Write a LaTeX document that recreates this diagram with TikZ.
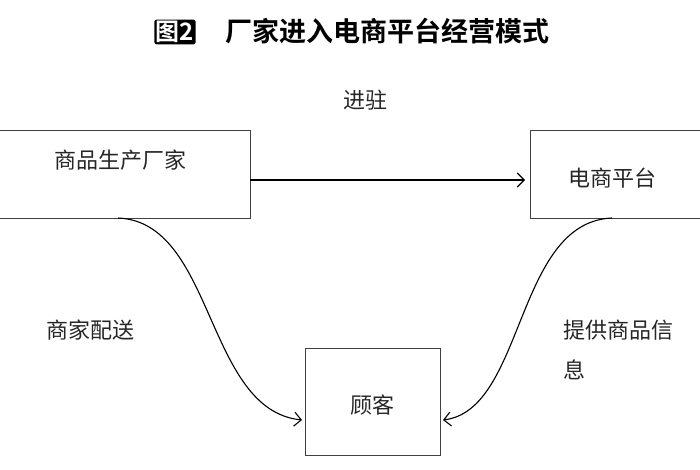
\documentclass[tikz,border=0pt]{standalone}
\usepackage{fontspec}
\newfontfamily\cjk{Noto Sans CJK SC}
\newfontfamily\cjkb{Noto Sans CJK SC Bold}
\usetikzlibrary{arrows.meta}
\begin{document}
\begin{tikzpicture}[x=1pt,y=-1pt,
  box/.style={draw=black!75,line width=0.9pt},
  lab/.style={font=\cjk\fontsize{22}{26}\selectfont,text=black!85},
  arr/.style={line width=1.1pt,-{Straight Barb[length=7pt,width=14pt]}}]
\useasboundingbox (0,0) rectangle (700,470);
\node[fill=black,text=white,font=\cjkb\fontsize{24}{26}\selectfont,inner sep=1.5pt,rounded corners=2pt] (t1) at (175,32) {图2};
\node[font=\cjkb\fontsize{27}{30}\selectfont,anchor=west] (t2) at (222,31) {厂家进入电商平台经营模式};
\draw[box] (-1,130) rectangle (250,218);
\coordinate (a) at (250,180);
\node[lab] (n1) at (120,160) {商品生产厂家};
\draw[box] (530,130) rectangle (701,218);
\coordinate (b) at (525,180);
\node[lab] (n2) at (612,178) {电商平台};
\draw[box] (305,348) rectangle (440,455);
\node[lab] (n3) at (372,405) {顾客};
\coordinate (c1) at (118,218);
\coordinate (c2) at (612,218);
\coordinate (d1) at (302,420);
\coordinate (d2) at (443,420);
\draw[arr] (a) -- (b);
\node[lab] (l1) at (365,100) {进驻};
\draw[arr] (c1) .. controls (215,222) and (205,410) .. (d1);
\draw[arr] (c2) .. controls (515,222) and (525,410) .. (d2);
\node[lab] (l2) at (90,330) {商家配送};
\node[lab,anchor=west] (l3) at (560,330) {提供商品信};
\node[lab,anchor=west] (l4) at (560,370) {息};
\end{tikzpicture}
\end{document}
